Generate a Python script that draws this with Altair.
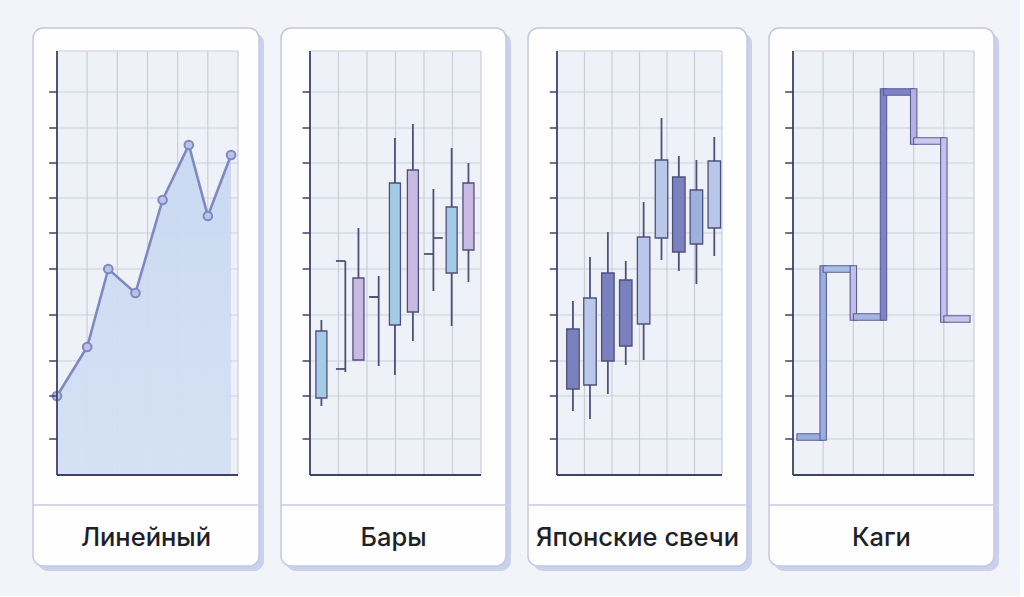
import altair as alt
import pandas as pd

# ---- shared grid levels (price units, bottom of plot = 0) ----
GRID_Y = [0, 36, 79, 114, 160, 206, 242, 277, 312, 347, 383, 424]
GRID_X = [1, 2, 3, 4, 5, 6]
X_MAX = 6

LABELS = ["Линейный", "Бары", "Японские свечи", "Каги"]

# ---- line chart ----
LINE_X = [0, 1, 1.7, 2.6, 3.5, 4.37, 5.0, 5.77]
LINE_Y = [79, 128, 206, 182, 275, 330, 259, 320]

# ---- bar (OHLC / candle mix) chart ----
BAR_KIND = ["candle", "ohlc", "candle", "ohlc", "candle", "candle", "ohlc", "candle", "candle"]
BAR_X = [0.40, 1.24, 1.70, 2.41, 2.98, 3.61, 4.33, 4.97, 5.56]
BAR_HIGH = [155, 214, 247, 199, 337, 351, 286, 327, 312]
BAR_LOW = [69, 103, 115, 109, 100, 134, 184, 149, 193]
BAR_OPEN = [77, 214, 197, 178, 150, 305, 221, 202, 292]
BAR_CLOSE = [144, 106, 115, 178, 292, 163, 237, 268, 225]
BAR_CLOSE_SIDE = ["", "left", "", "left", "", "", "right", "", ""]

# ---- japanese candlesticks ----
CDL_X = [0.58, 1.20, 1.85, 2.50, 3.15, 3.80, 4.43, 5.07, 5.72]
CDL_HIGH = [174, 218, 243, 214, 273, 357, 319, 315, 338]
CDL_LOW = [64, 56, 81, 110, 115, 215, 204, 191, 219]
CDL_BODY_LO = [86, 90, 114, 129, 151, 237, 223, 231, 247]
CDL_BODY_HI = [146, 177, 202, 195, 238, 315, 298, 285, 314]
CDL_TONE = ["dark", "light", "dark", "dark", "light", "light", "dark", "mid", "light"]

# ---- kagi ----
KAGI_COLS = [0.13, 1, 2, 3, 4, 5, 5.87]
KAGI_LEVELS = [38, 206, 158, 383, 334, 156]
KAGI_H_COLORS = ["#9aade0", "#a9c0e6", "#a8b4e4", "#7e82c6", "#cfc8ec", "#cbc3ea"]
KAGI_V_COLORS = ["#9aade0", "#c6bde6", "#7e82c6", "#b8b0e2", "#c8c0ea"]

# ---- styling ----
PAGE_BG = "#f2f4f9"
CARD_FILL = "#fefefe"
CARD_STROKE = "#c3c8dc"
SHADOW = "#c9d1ec"
PLOT_BG = "#eef2f8"
GRID = "#c9ceda"
AXIS = "#3f4068"
OUTLINE = "#4f5079"
CARD_H = 538
SHADOW_OFF = 5
PLOT_TOP = 23
PLOT_BOTTOM = 447
PLOT_LEFT = 24
GAP = 17


def scales(grid_right):
    xs = alt.Scale(domain=[0, X_MAX], range=[PLOT_LEFT, grid_right])
    ys = alt.Scale(domain=[GRID_Y[0], GRID_Y[-1]], range=[PLOT_BOTTOM, PLOT_TOP])
    return xs, ys


def card_layers(w, label):
    one = pd.DataFrame({"label": [label]})
    shadow = alt.Chart(one).mark_rect(fill=SHADOW, cornerRadius=10).encode(
        x=alt.value(SHADOW_OFF), x2=alt.value(w + SHADOW_OFF),
        y=alt.value(SHADOW_OFF), y2=alt.value(CARD_H + SHADOW_OFF))
    body = alt.Chart(one).mark_rect(fill=CARD_FILL, stroke=CARD_STROKE, strokeWidth=1.5,
                                    cornerRadius=10).encode(
        x=alt.value(0), x2=alt.value(w), y=alt.value(0), y2=alt.value(CARD_H))
    divider = alt.Chart(one).mark_rule(color="#c6cbde", strokeWidth=1.5).encode(
        x=alt.value(1), x2=alt.value(w - 1), y=alt.value(477))
    text = alt.Chart(one).mark_text(font="Inter", fontSize=25.5, fontWeight=500,
                                    color="#1e1f29", baseline="alphabetic").encode(
        x=alt.value(w / 2), y=alt.value(518), text="label:N")
    return [shadow, body, divider], [text]


def grid_layers(xs, ys):
    bg = pd.DataFrame({"x0": [0], "x1": [X_MAX], "y0": [GRID_Y[0]], "y1": [GRID_Y[-1]]})
    plot_bg = alt.Chart(bg).mark_rect(fill=PLOT_BG).encode(
        x=alt.X("x0:Q", scale=xs, axis=None), x2="x1:Q",
        y=alt.Y("y0:Q", scale=ys, axis=None), y2="y1:Q")
    vg = pd.DataFrame({"gx": GRID_X, "y0": GRID_Y[0], "y1": GRID_Y[-1]})
    vgrid = alt.Chart(vg).mark_rule(color=GRID, strokeWidth=1.2).encode(
        x=alt.X("gx:Q", scale=xs, axis=None),
        y=alt.Y("y0:Q", scale=ys, axis=None), y2="y1:Q")
    hg = pd.DataFrame({"gy": GRID_Y[1:], "x0": 0, "x1": X_MAX})
    hgrid = alt.Chart(hg).mark_rule(color=GRID, strokeWidth=1.2).encode(
        x=alt.X("x0:Q", scale=xs, axis=None), x2="x1:Q",
        y=alt.Y("gy:Q", scale=ys, axis=None))
    tk = pd.DataFrame({"ty": GRID_Y[1:-1], "x0": -0.26, "x1": 0})
    ticks = alt.Chart(tk).mark_rule(color=AXIS, strokeWidth=1.5).encode(
        x=alt.X("x0:Q", scale=xs, axis=None), x2="x1:Q",
        y=alt.Y("ty:Q", scale=ys, axis=None))
    ax = pd.DataFrame({"x0": [0, 0], "x1": [0, X_MAX],
                       "y0": [GRID_Y[0], GRID_Y[0]], "y1": [GRID_Y[-1], GRID_Y[0]]})
    axes = alt.Chart(ax).mark_rule(color=AXIS, strokeWidth=1.8).encode(
        x=alt.X("x0:Q", scale=xs, axis=None), x2="x1:Q",
        y=alt.Y("y0:Q", scale=ys, axis=None), y2="y1:Q")
    return [plot_bg, vgrid, hgrid], [axes, ticks]


def panel(w, grid_right, label, data_layers_fn):
    xs, ys = scales(grid_right)
    under, over = card_layers(w, label)
    g_under, g_over = grid_layers(xs, ys)
    layers = under + g_under + data_layers_fn(xs, ys) + g_over + over
    return alt.layer(*layers).properties(width=w + SHADOW_OFF, height=CARD_H + SHADOW_OFF)


def line_layers(xs, ys):
    df = pd.DataFrame({"x": LINE_X, "y": LINE_Y})
    base = alt.Chart(df).encode(x=alt.X("x:Q", scale=xs, axis=None),
                                y=alt.Y("y:Q", scale=ys, axis=None))
    area = base.mark_area(
        color=alt.Gradient(gradient="linear", x1=0, y1=0, x2=0, y2=1,
                           stops=[alt.GradientStop(color="#c9d8f1", offset=0),
                                  alt.GradientStop(color="#d4e0f4", offset=1)]),
        opacity=0.95)
    line = base.mark_line(color="#7f88c2", strokeWidth=2.6)
    pts = base.mark_circle(size=75, color="#b9c3e8", stroke="#7f88c2",
                           strokeWidth=2, opacity=1)
    return [area, line, pts]


def bar_layers(xs, ys):
    df = pd.DataFrame({"x": BAR_X, "kind": BAR_KIND, "high": BAR_HIGH, "low": BAR_LOW,
                       "open": BAR_OPEN, "close": BAR_CLOSE, "cside": BAR_CLOSE_SIDE})
    df["lo"] = df[["open", "close"]].min(axis=1)
    df["hi"] = df[["open", "close"]].max(axis=1)
    df["fill"] = ["#a3cbe6" if c > o else "#c9bae3" for o, c in zip(df["open"], df["close"])]
    wick = alt.Chart(df).mark_rule(color=OUTLINE, strokeWidth=1.8).encode(
        x=alt.X("x:Q", scale=xs, axis=None),
        y=alt.Y("low:Q", scale=ys, axis=None), y2="high:Q")
    candles = df[df["kind"] == "candle"]
    body = alt.Chart(candles).mark_bar(size=11, stroke=OUTLINE, strokeWidth=1.3).encode(
        x=alt.X("x:Q", scale=xs, axis=None),
        y=alt.Y("lo:Q", scale=ys, axis=None), y2="hi:Q",
        color=alt.Color("fill:N", scale=None))
    rows = []
    arm = 0.33
    for _, r in df[df["kind"] == "ohlc"].iterrows():
        rows.append({"x0": r["x"] - arm, "x1": r["x"], "y": r["open"]})
        if r["cside"] == "left":
            rows.append({"x0": r["x"] - arm, "x1": r["x"], "y": r["close"]})
        else:
            rows.append({"x0": r["x"], "x1": r["x"] + arm, "y": r["close"]})
    arms = alt.Chart(pd.DataFrame(rows)).mark_rule(color=OUTLINE, strokeWidth=1.8).encode(
        x=alt.X("x0:Q", scale=xs, axis=None), x2="x1:Q",
        y=alt.Y("y:Q", scale=ys, axis=None))
    return [wick, body, arms]


def candle_layers(xs, ys):
    tone_fill = {"dark": "#7b80bf", "light": "#b9c8ea", "mid": "#9eb0e0"}
    df = pd.DataFrame({"x": CDL_X, "high": CDL_HIGH, "low": CDL_LOW,
                       "lo": CDL_BODY_LO, "hi": CDL_BODY_HI, "tone": CDL_TONE})
    df["fill"] = df["tone"].map(tone_fill)
    wick = alt.Chart(df).mark_rule(color=OUTLINE, strokeWidth=1.8).encode(
        x=alt.X("x:Q", scale=xs, axis=None),
        y=alt.Y("low:Q", scale=ys, axis=None), y2="high:Q")
    body = alt.Chart(df).mark_bar(size=12.5, stroke=OUTLINE, strokeWidth=1.3).encode(
        x=alt.X("x:Q", scale=xs, axis=None),
        y=alt.Y("lo:Q", scale=ys, axis=None), y2="hi:Q",
        color=alt.Color("fill:N", scale=None))
    return [wick, body]


def kagi_layers(xs, ys):
    half_x = 3.2 / 30.2
    half_y = 3.2
    rows = []
    for i, lvl in enumerate(KAGI_LEVELS):
        a, b = KAGI_COLS[i], KAGI_COLS[i + 1]
        rows.append({"x0": a, "x1": b, "y0": lvl - half_y, "y1": lvl + half_y,
                     "fill": KAGI_H_COLORS[i], "order": 2 * i})
        if i + 1 < len(KAGI_LEVELS):
            nxt = KAGI_LEVELS[i + 1]
            rows.append({"x0": b - half_x, "x1": b + half_x,
                         "y0": min(lvl, nxt) - half_y, "y1": max(lvl, nxt) + half_y,
                         "fill": KAGI_V_COLORS[i], "order": 2 * i + 1})
    df = pd.DataFrame(rows)
    segs = alt.Chart(df).mark_rect(stroke="#5a5e97", strokeWidth=1.1).encode(
        x=alt.X("x0:Q", scale=xs, axis=None), x2="x1:Q",
        y=alt.Y("y0:Q", scale=ys, axis=None), y2="y1:Q",
        color=alt.Color("fill:N", scale=None),
        order=alt.Order("order:Q"))
    return [segs]


p1 = panel(226, 205, LABELS[0], line_layers)
p2 = panel(225, 205, LABELS[1], bar_layers)
p3 = panel(219, 199, LABELS[2], candle_layers)
p4 = panel(225, 205, LABELS[3], kagi_layers)

chart = (
    alt.hconcat(p1, p2, p3, p4, spacing=GAP, bounds="flush")
    .resolve_scale(x="independent", y="independent")
    .properties(padding={"left": 31, "top": 26, "right": 20, "bottom": 24},
                background=PAGE_BG)
    .configure_view(stroke="transparent")
)

chart.save("out.html", embed_options={"renderer": "svg", "actions": False})
